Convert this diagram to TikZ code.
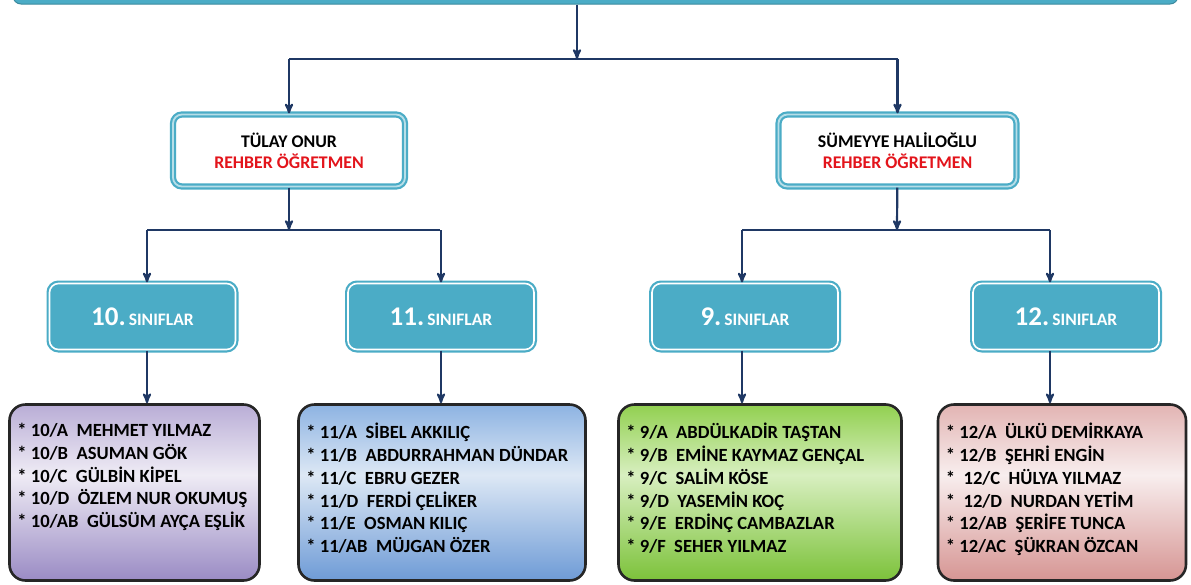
\documentclass[tikz,border=0pt]{standalone}
\usepackage{fontspec}
\setmainfont{Carlito}
\usepackage{tikz}
\usetikzlibrary{arrows}

\definecolor{teal1}{HTML}{4BACC6}
\definecolor{tealpale}{HTML}{B7DEE8}
\definecolor{navy}{HTML}{1F3864}
\definecolor{redtxt}{HTML}{E3141B}
\definecolor{purtop}{HTML}{B9ADD6}
\definecolor{purmid}{HTML}{EFECF5}
\definecolor{purbot}{HTML}{9A8BC4}
\definecolor{blutop}{HTML}{8DB3E2}
\definecolor{blumid}{HTML}{DDE8F5}
\definecolor{blubot}{HTML}{6E9BD6}
\definecolor{grntop}{HTML}{92D050}
\definecolor{grnmid}{HTML}{D8EFC0}
\definecolor{grnbot}{HTML}{7CC23A}
\definecolor{pnktop}{HTML}{E2B4B3}
\definecolor{pnkmid}{HTML}{F8EEEE}
\definecolor{pnkbot}{HTML}{D69593}

\pgfdeclareverticalshading{purshade}{100bp}{color(0bp)=(purbot); color(25bp)=(purbot); color(55bp)=(purmid); color(75bp)=(purtop); color(100bp)=(purtop)}
\pgfdeclareverticalshading{blushade}{100bp}{color(0bp)=(blubot); color(25bp)=(blubot); color(55bp)=(blumid); color(75bp)=(blutop); color(100bp)=(blutop)}
\pgfdeclareverticalshading{grnshade}{100bp}{color(0bp)=(grnbot); color(25bp)=(grnbot); color(55bp)=(grnmid); color(75bp)=(grntop); color(100bp)=(grntop)}
\pgfdeclareverticalshading{pnkshade}{100bp}{color(0bp)=(pnkbot); color(25bp)=(pnkbot); color(55bp)=(pnkmid); color(75bp)=(pnktop); color(100bp)=(pnktop)}

\begin{document}
\begin{tikzpicture}[x=1pt,y=-1pt,->,>=stealth',
    conn/.style={draw=navy,line width=2.2pt},
    teacher/.style={draw=teal1,double=tealpale,double distance=1.8pt,line width=2.2pt,fill=white,rounded corners=9pt,minimum width=232pt,minimum height=72pt,inner sep=0pt,align=center,font=\bfseries\fontsize{17.8}{21}\selectfont},
    classbox/.style={draw=teal1,double=white,double distance=1.6pt,line width=2.2pt,fill=teal1,rounded corners=9pt,minimum width=186pt,minimum height=66pt,inner sep=0pt,text=white,font=\bfseries},
    listbox/.style={draw=black!85,line width=2.6pt,rounded corners=16pt,minimum height=176pt,inner sep=0pt},
    listtext/.style={anchor=north west,align=left,inner sep=0pt,font=\bfseries\fontsize{18.6}{22.7}\selectfont}]

    \useasboundingbox (0,0) rectangle (1191,584);

    % top bar (only its lower edge shows)
    \node[fill=teal1,draw=teal1!80!black,line width=1pt,rounded corners=8pt,minimum width=1165pt,minimum height=40pt] (top) at (595.5,-16) {};

    % teachers
    \node[teacher] (tulay) at (289,150.5) {T\"ULAY ONUR\\ \textcolor{redtxt}{REHBER \"O\u{G}RETMEN}};
    \node[teacher,minimum width=238pt] (sumeyye) at (897.5,150.5) {S\"UMEYYE HAL\.{I}LO\u{G}LU\\ \textcolor{redtxt}{REHBER \"O\u{G}RETMEN}};

    % classes
    \node[classbox] (c10) at (142.5,316.5) {{\fontsize{27}{27}\selectfont 10.} {\fontsize{17.5}{17.5}\selectfont SINIFLAR}};
    \node[classbox] (c11) at (441,316.5) {{\fontsize{27}{27}\selectfont 11.} {\fontsize{17.5}{17.5}\selectfont SINIFLAR}};
    \node[classbox] (c9) at (745,316.5) {{\fontsize{27}{27}\selectfont 9.} {\fontsize{17.5}{17.5}\selectfont SINIFLAR}};
    \node[classbox] (c12) at (1066,316.5) {{\fontsize{27}{27}\selectfont 12.} {\fontsize{17.5}{17.5}\selectfont SINIFLAR}};

    % lists
    \node[listbox,minimum width=250pt,shading=purshade] (l10) at (134.5,492.5) {};
    \node[listbox,minimum width=287pt,shading=blushade] (l11) at (442,492.5) {};
    \node[listbox,minimum width=283pt,shading=grnshade] (l9) at (760,492.5) {};
    \node[listbox,minimum width=248pt,shading=pnkshade] (l12) at (1062,492.5) {};

    \node[listtext] (t10) at ([xshift=9pt,yshift=-20pt]l10.north west) {* 10/A\ \ MEHMET YILMAZ\\ * 10/B\ \ ASUMAN G\"OK\\ * 10/C\ \ G\"ULB\.{I}N K\.{I}PEL\\ * 10/D\ \ \"OZLEM NUR OKUMU\c{S}\\ * 10/AB\ \ G\"ULS\"UM AY\c{C}A E\c{S}L\.{I}K};
    \node[listtext] (t11) at ([xshift=9pt,yshift=-20pt]l11.north west) {* 11/A\ \ S\.{I}BEL AKKILI\c{C}\\ * 11/B\ \ ABDURRAHMAN D\"UNDAR\\ * 11/C\ \ EBRU GEZER\\ * 11/D\ \ FERD\.{I} \c{C}EL\.{I}KER\\ * 11/E\ \ OSMAN KILI\c{C}\\ * 11/AB\ \ M\"UJGAN \"OZER};
    \node[listtext] (t9) at ([xshift=9pt,yshift=-20pt]l9.north west) {* 9/A\ \ ABD\"ULKAD\.{I}R TA\c{S}TAN\\ * 9/B\ \ EM\.{I}NE KAYMAZ GEN\c{C}AL\\ * 9/C\ \ SAL\.{I}M K\"OSE\\ * 9/D\ \ YASEM\.{I}N KO\c{C}\\ * 9/E\ \ ERD\.{I}N\c{C} CAMBAZLAR\\ * 9/F\ \ SEHER YILMAZ};
    \node[listtext] (t12) at ([xshift=9pt,yshift=-20pt]l12.north west) {* 12/A\ \ \"ULK\"U DEM\.{I}RKAYA\\ * 12/B\ \ \c{S}EHR\.{I} ENG\.{I}N\\ *\ \ 12/C\ \ H\"ULYA YILMAZ\\ *\ \ 12/D\ \ NURDAN YET\.{I}M\\ * 12/AB\ \ \c{S}ER\.{I}FE TUNCA\\ * 12/AC\ \ \c{S}\"UKRAN \"OZCAN};

    % junctions
    \coordinate (j0) at (577,59);
    \coordinate (jl) at (289,230);
    \coordinate (jr) at (897,230);

    \draw[conn] (top.south -| j0) -- (j0);
    \draw[conn,-] (j0) -- (j0 -| tulay) -- (j0 -| sumeyye);
    \draw[conn] (j0 -| tulay) -- (tulay);
    \draw[conn] (j0 -| sumeyye) -- (sumeyye);

    \draw[conn] (tulay) -- (jl);
    \draw[conn,-] (147,230) -- (440,230);
    \draw[conn] (jl -| 147,0) -- (c10.north -| 147,0);
    \draw[conn] (jl -| c11) -- (c11);
    \draw[conn] (sumeyye) -- (jr);
    \draw[conn,-] (742,230) -- (1050,230);
    \draw[conn] (jr -| 742,0) -- (c9.north -| 742,0);
    \draw[conn] (jr -| 1050,0) -- (c12.north -| 1050,0);

    \draw[conn] (c10.south -| 147,0) -- (l10.north -| 147,0);
    \draw[conn] (c11) -- (l11.north -| c11);
    \draw[conn] (c9.south -| 742,0) -- (l9.north -| 742,0);
    \draw[conn] (c12.south -| 1050,0) -- (l12.north -| 1050,0);
\end{tikzpicture}
\end{document}
